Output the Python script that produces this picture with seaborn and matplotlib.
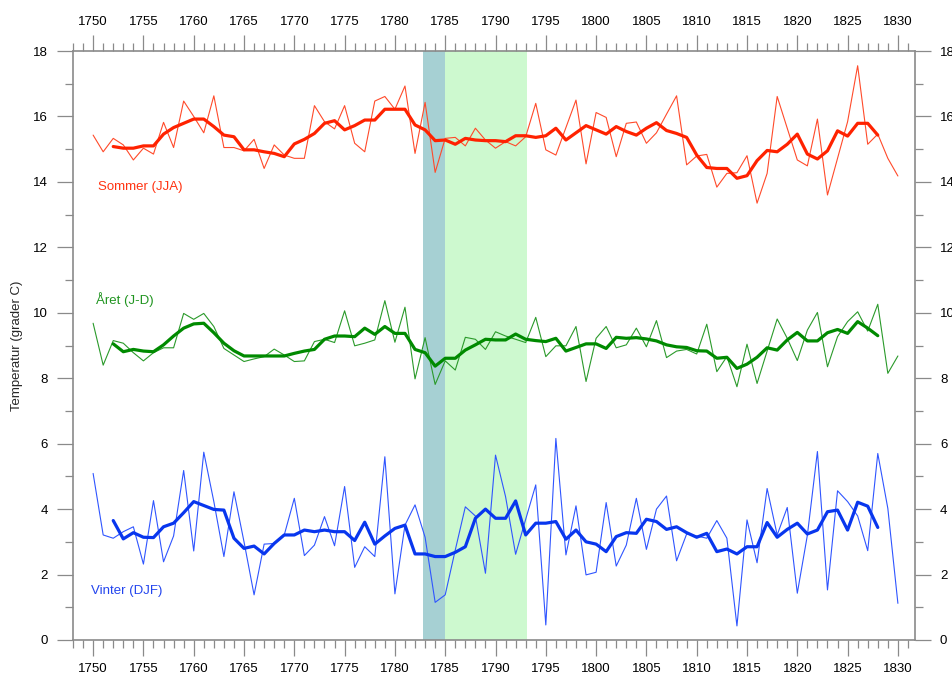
import numpy as np
import pandas as pd
import matplotlib
matplotlib.use("Agg")
import matplotlib.pyplot as plt
import seaborn as sns
from matplotlib.ticker import MultipleLocator

years = list(range(1750, 1831))
smooth_years = list(range(1752, 1829))

summer = [15.43, 14.92, 15.33, 15.13, 14.67, 15.03, 14.85, 15.82, 15.05, 16.47,
          16.00, 15.50, 16.63, 15.05, 15.05, 14.95, 15.30, 14.41, 15.13, 14.82,
          14.72, 14.72, 16.33, 15.84, 15.62, 16.33, 15.18, 14.92, 16.47, 16.61,
          16.22, 16.93, 14.87, 16.43, 14.29, 15.33, 15.36, 15.10, 15.64, 15.28,
          15.03, 15.23, 15.10, 15.38, 16.40, 14.98, 14.82, 15.66, 16.50, 14.55,
          16.12, 15.97, 14.77, 15.79, 15.83, 15.18, 15.50, 16.07, 16.63, 14.52,
          14.79, 14.84, 13.84, 14.26, 14.28, 14.80, 13.35, 14.26, 16.61, 15.64,
          14.67, 14.49, 15.92, 13.60, 14.72, 15.84, 17.55, 15.15, 15.46, 14.72,
          14.18]
summer_smooth = [15.08, 15.03, 15.03, 15.10, 15.10, 15.46, 15.66, 15.79, 15.92, 15.92,
                 15.69, 15.43, 15.38, 14.98, 14.98, 14.92, 14.87, 14.77, 15.16, 15.30,
                 15.48, 15.79, 15.87, 15.59, 15.72, 15.89, 15.89, 16.22, 16.22, 16.22,
                 15.74, 15.59, 15.26, 15.28, 15.15, 15.33, 15.28, 15.26, 15.26, 15.23,
                 15.41, 15.41, 15.36, 15.41, 15.64, 15.28, 15.50, 15.72, 15.59, 15.46,
                 15.69, 15.54, 15.43, 15.64, 15.81, 15.57, 15.48, 15.36, 14.82, 14.44,
                 14.41, 14.41, 14.11, 14.19, 14.65, 14.96, 14.92, 15.15, 15.46, 14.85,
                 14.70, 14.95, 15.56, 15.40, 15.79, 15.79, 15.43]

annual = [9.68, 8.40, 9.15, 9.07, 8.78, 8.53, 8.78, 8.93, 8.93, 9.98,
          9.80, 9.98, 9.58, 8.91, 8.71, 8.51, 8.59, 8.66, 8.89, 8.71,
          8.51, 8.53, 9.12, 9.19, 9.09, 10.06, 8.99, 9.07, 9.17, 10.37,
          9.10, 10.17, 7.98, 9.24, 7.81, 8.53, 8.25, 9.25, 9.19, 8.88,
          9.42, 9.29, 9.19, 9.09, 9.86, 8.66, 8.99, 8.99, 9.58, 7.90,
          9.22, 9.58, 8.93, 9.02, 9.53, 8.96, 9.76, 8.63, 8.83, 8.88,
          8.74, 9.65, 8.20, 8.66, 7.74, 9.04, 7.84, 8.83, 9.81, 9.22,
          8.54, 9.47, 10.01, 8.35, 9.27, 9.73, 10.03, 9.44, 10.26, 8.15,
          8.68]
annual_smooth = [9.05, 8.81, 8.88, 8.83, 8.81, 9.02, 9.29, 9.53, 9.66, 9.68,
                 9.39, 9.07, 8.84, 8.68, 8.68, 8.68, 8.68, 8.68, 8.76, 8.83,
                 8.88, 9.19, 9.29, 9.29, 9.27, 9.53, 9.34, 9.58, 9.37, 9.37,
                 8.88, 8.78, 8.37, 8.61, 8.61, 8.86, 9.02, 9.19, 9.17, 9.17,
                 9.35, 9.19, 9.15, 9.12, 9.22, 8.83, 8.94, 9.05, 9.05, 8.91,
                 9.25, 9.22, 9.24, 9.20, 9.14, 9.02, 8.96, 8.94, 8.84, 8.83,
                 8.61, 8.64, 8.30, 8.43, 8.64, 8.93, 8.86, 9.17, 9.40, 9.14,
                 9.14, 9.39, 9.49, 9.37, 9.73, 9.53, 9.30]

winter = [5.09, 3.21, 3.11, 3.31, 3.46, 2.32, 4.26, 2.39, 3.18, 5.18,
          2.72, 5.74, 4.23, 2.55, 4.53, 3.00, 1.38, 2.93, 2.95, 3.21,
          4.33, 2.58, 2.90, 3.77, 2.88, 4.69, 2.22, 2.85, 2.55, 5.60,
          1.41, 3.51, 4.13, 3.14, 1.15, 1.38, 2.75, 4.07, 3.79, 2.04,
          5.65, 4.38, 2.62, 3.69, 4.74, 0.46, 6.16, 2.60, 4.10, 1.99,
          2.07, 4.20, 2.26, 2.90, 4.33, 2.77, 4.00, 4.40, 2.42, 3.24,
          3.18, 3.11, 3.65, 3.11, 0.43, 3.67, 2.36, 4.63, 3.21, 4.05,
          1.43, 3.20, 5.76, 1.53, 4.56, 4.23, 3.79, 2.73, 5.70, 4.02,
          1.12]
winter_smooth = [3.65, 3.09, 3.28, 3.14, 3.13, 3.46, 3.57, 3.89, 4.23, 4.11,
                 3.99, 3.97, 3.11, 2.80, 2.87, 2.63, 2.95, 3.21, 3.21, 3.36,
                 3.31, 3.36, 3.31, 3.31, 3.04, 3.60, 2.93, 3.18, 3.41, 3.51,
                 2.63, 2.63, 2.55, 2.55, 2.68, 2.85, 3.72, 4.00, 3.72, 3.72,
                 4.25, 3.21, 3.57, 3.57, 3.62, 3.08, 3.36, 3.00, 2.93, 2.70,
                 3.16, 3.28, 3.26, 3.69, 3.62, 3.38, 3.46, 3.28, 3.14, 3.26,
                 2.70, 2.78, 2.63, 2.85, 2.85, 3.59, 3.14, 3.38, 3.57, 3.24,
                 3.36, 3.92, 3.97, 3.36, 4.21, 4.09, 3.44]

labels = ["Sommer (JJA)", "Året (J-D)", "Vinter (DJF)"]
ylabel = "Temperatur (grader C)"
shade_teal = (1782.75, 1785.0)
shade_green = (1785.0, 1793.1)

sns.set_style("ticks")
plt.rcParams['font.family'] = ['Liberation Sans', 'DejaVu Sans']

fig = plt.figure(figsize=(9.53, 6.81), dpi=100)
ax = fig.add_axes([73/953, 41/681, 842/953, 589/681])

ax.axvspan(*shade_teal, color='#a6d0d3', lw=0, zorder=0)
ax.axvspan(*shade_green, color='#cdf9cf', lw=0, zorder=0)

raw = pd.DataFrame({"year": years, "s": summer, "a": annual, "w": winter})
sm = pd.DataFrame({"year": smooth_years, "s": summer_smooth, "a": annual_smooth, "w": winter_smooth})

thin_cols = {"s": "#ff4a2a", "a": "#2a9a2a", "w": "#2f55ff"}
thick_cols = {"s": "#ff2200", "a": "#008a00", "w": "#0836ee"}
for k in ["s", "a", "w"]:
    sns.lineplot(data=raw, x="year", y=k, ax=ax, color=thin_cols[k], lw=0.8, zorder=3)
    sns.lineplot(data=sm, x="year", y=k, ax=ax, color=thick_cols[k], lw=2.3, zorder=4)

txt_cols = ["#ff3311", "#1f941f", "#2244ee"]
txt_pos = [(1750.5, 13.85), (1750.3, 10.39), (1749.8, 1.50)]
for lab, (x, y), c in zip(labels, txt_pos, txt_cols):
    ax.text(x, y, lab, color=c, fontsize=9.5, ha='left', va='center')

ax.set_xlim(1748.0, 1831.7)
ax.set_ylim(0, 18)
ax.xaxis.set_major_locator(MultipleLocator(5))
ax.xaxis.set_minor_locator(MultipleLocator(1))
ax.yaxis.set_major_locator(MultipleLocator(2))
ax.yaxis.set_minor_locator(MultipleLocator(1))

spine_c = '#8a8a8a'
for sp in ax.spines.values():
    sp.set_visible(True)
    sp.set_color(spine_c)
    sp.set_linewidth(1.2)

ax.tick_params(axis='both', which='both', direction='out', color=spine_c,
               top=True, right=True, labeltop=True, labelright=True,
               labelsize=9.5, labelcolor='black')
ax.tick_params(which='major', length=11.5, width=0.9, pad=6.5)
ax.tick_params(which='minor', length=6, width=0.9)
ax.tick_params(axis='x', which='major', pad=5)

ax.set_xlabel("")
ax.set_ylabel(ylabel, fontsize=9.5)
ax.yaxis.set_label_position('left')
ax.yaxis.set_label_coords(-(73 - 23) / 842, 0.5)

fig.savefig("out.png", dpi=100)
